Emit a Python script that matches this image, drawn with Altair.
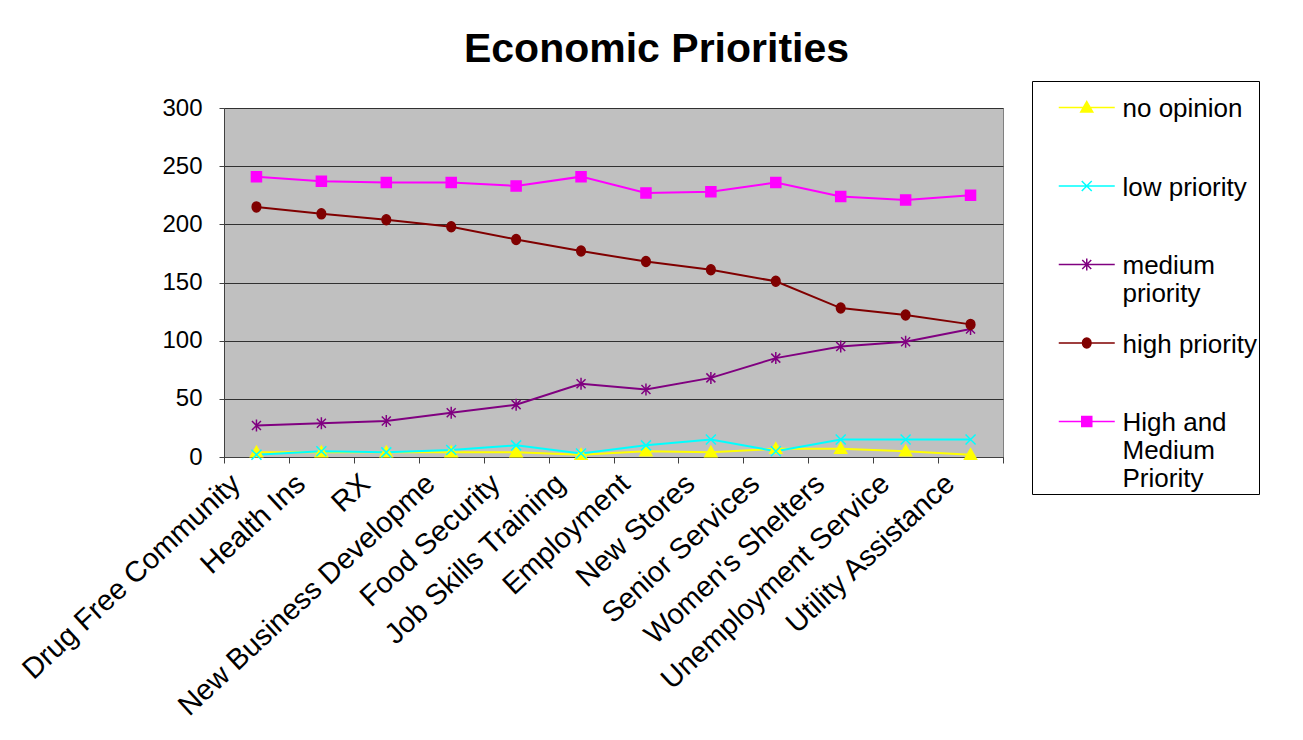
import altair as alt
import pandas as pd

categories = ["Drug Free Community", "Health Ins", "RX", "New Business Developme",
              "Food Security", "Job Skills Training", "Employment", "New Stores",
              "Senior Services", "Women's Shelters", "Unemployment Service",
              "Utility Assistance"]

no_opinion = [4, 4, 4, 4, 4, 2, 5, 4, 7, 7, 5, 2]
low_priority = [2, 5, 4, 6, 10, 3, 10, 15, 5, 15, 15, 15]
medium_priority = [27, 29, 31, 38, 45, 63, 58, 68, 85, 95, 99, 110]
high_priority = [215, 209, 204, 198, 187, 177, 168, 161, 151, 128, 122, 114]
high_and_medium = [241, 237, 236, 236, 233, 241, 227, 228, 236, 224, 221, 225]

series_names = ["no opinion", "low priority", "medium priority", "high priority",
                "High and Medium Priority"]
series_values = [no_opinion, low_priority, medium_priority, high_priority, high_and_medium]
series_colors = ["#FFFF00", "#00FFFF", "#800080", "#800000", "#FF00FF"]
y_ticks = [0, 50, 100, 150, 200, 250, 300]

FONT = "Liberation Sans"
SYM_SIZE = 64          # symbol area -> path unit of sqrt(64)/2 = 4 px
U = 4.0


def p(x, y):
    return f"{x / U:.3f},{y / U:.3f}"


# marker shapes, given in pixels
def tri(dy=0.0):
    return f"M{p(0, -6 + dy)}L{p(6, 4.5 + dy)}L{p(-6, 4.5 + dy)}Z"


def xmark(dy=0.0):
    return f"M{p(-5, -5 + dy)}L{p(5, 5 + dy)}M{p(-5, 5 + dy)}L{p(5, -5 + dy)}"


def star(dy=0.0):
    return (f"M{p(-4.5, -4.5 + dy)}L{p(4.5, 4.5 + dy)}M{p(-4.5, 4.5 + dy)}L{p(4.5, -4.5 + dy)}"
            f"M{p(0, -6 + dy)}L{p(0, 6 + dy)}")


def circ(dy=0.0):
    rx, ry = 4.3 / U, 5.0 / U
    return (f"M{p(-4.3, dy)}A{rx:.3f},{ry:.3f} 0 1,0 {p(4.3, dy)}"
            f"A{rx:.3f},{ry:.3f} 0 1,0 {p(-4.3, dy)}Z")


def sq(dy=0.0):
    return f"M{p(-5, -5 + dy)}L{p(5, -5 + dy)}L{p(5, 5 + dy)}L{p(-5, 5 + dy)}Z"


makers = [tri, xmark, star, circ, sq]
LDY = 11.5
legend_shapes = [f"M{p(-28, LDY)}L{p(28, LDY)}" + m(LDY) for m in makers]
plot_shapes = [m(0.0) for m in makers]

legend_keys = [f"L{i}" for i in range(5)]
plot_keys = [f"P{i}" for i in range(5)]
domain = legend_keys + plot_keys
colors = series_colors + series_colors
shapes = legend_shapes + plot_shapes

rows = []
for i, vals in enumerate(series_values):
    for c, v in zip(categories, vals):
        rows.append({"category": c, "value": v, "key": plot_keys[i], "order": i})
df = pd.DataFrame(rows)

label_expr = ("datum.value == 'L0' ? ['no opinion',''] : "
              "datum.value == 'L1' ? ['low priority',''] : "
              "datum.value == 'L2' ? ['medium','priority'] : "
              "datum.value == 'L3' ? ['high priority',''] : "
              "['High and','Medium','Priority']")

legend = alt.Legend(
    title=None, orient="none", legendX=808, legendY=-27, values=legend_keys,
    labelExpr=label_expr, labelFontSize=26, labelFont=FONT, labelColor="black",
    labelBaseline="top", labelLimit=300, labelOffset=22.75, symbolOffset=39.75,
    symbolSize=SYM_SIZE, symbolStrokeWidth=1.5, padding=2, strokeColor="black",
    fillColor="white", rowPadding=11.5, direction="vertical",
)

x_enc = alt.X(
    "category:N", sort=categories,
    scale=alt.Scale(type="band", paddingInner=0, paddingOuter=0),
    axis=alt.Axis(title=None, labelAngle=-43, labelAlign="right", labelBaseline="middle",
                  labelFontSize=29, labelFont=FONT, labelColor="black", labelPadding=16,
                  labelOffset=-21, labelLimit=500, labelOverlap=False, tickBand="extent",
                  tickSize=6, tickColor="#404040", domainColor="#404040", grid=False),
)
y_enc = alt.Y(
    "value:Q", scale=alt.Scale(domain=[0, 300], nice=False),
    axis=alt.Axis(title=None, values=y_ticks, labelFontSize=24, labelFont=FONT,
                  labelColor="black", labelPadding=17, tickSize=5, tickColor="#404040",
                  domainColor="#404040", gridColor="#303030", gridWidth=1, grid=True),
)

color_scale = alt.Scale(domain=domain, range=colors)

lines = alt.Chart(df).mark_line(strokeWidth=2).encode(
    x=x_enc, y=y_enc,
    stroke=alt.Stroke("key:N", scale=color_scale, legend=legend),
    order=alt.Order("order:Q"),
)

points = alt.Chart(df).mark_point(size=SYM_SIZE, strokeWidth=1.5, opacity=1).encode(
    x=x_enc, y=y_enc,
    fill=alt.Fill("key:N", scale=color_scale, legend=legend),
    stroke=alt.Stroke("key:N", scale=color_scale, legend=legend),
    shape=alt.Shape("key:N", scale=alt.Scale(domain=domain, range=shapes), legend=legend),
)

chart = alt.layer(lines, points).properties(
    width=779, height=349,
    autosize=alt.AutoSizeParams(type="none"),
    padding={"left": 224, "top": 108, "right": 300, "bottom": 283},
    background="white",
    title=alt.TitleParams("Economic Priorities", fontSize=41, fontWeight="bold", font=FONT,
                          anchor="middle", dx=43, offset=-22, baseline="alphabetic",
                          frame="group", color="black"),
).configure_view(
    fill="#C0C0C0", stroke="#808080", strokeWidth=1,
)

chart.save("out.html", embed_options={"renderer": "svg", "actions": False})
